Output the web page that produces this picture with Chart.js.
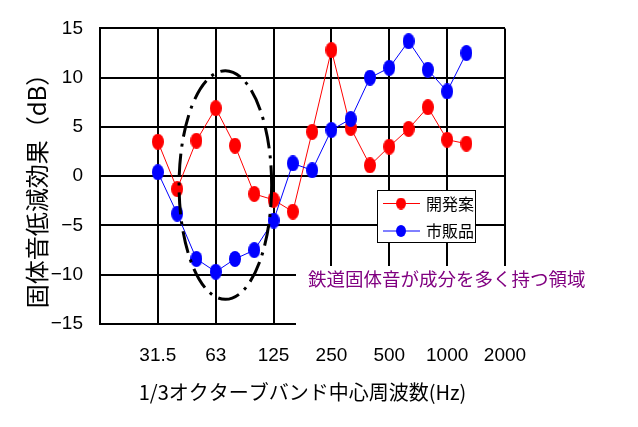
<!DOCTYPE html>
<html>
<head>
<meta charset="utf-8">
<script src="https://cdn.jsdelivr.net/npm/chart.js@4.4.0/dist/chart.umd.min.js"></script>
<style>
  html, body { margin: 0; padding: 0; background: #ffffff; }
  #wrap { width: 638px; height: 427px; }
</style>
</head>
<body>
<div id="wrap"><canvas id="c" width="638" height="427"></canvas></div>
<script>
// ---- data ----
const axisBands = ['16','20','25','31.5','40','50','63','80','100','125','160','200','250','315','400','500','630','800','1000','1250','1600','2000'];
const measuredBands = ['31.5','40','50','63','80','100','125','160','200','250','315','400','500','630','800','1000','1250'];
const kaihatsuan = [3.5, -1.3, 3.6, 6.9, 3.1, -1.8, -2.4, -3.6, 4.5, 12.8, 4.9, 1.1, 3.0, 4.8, 7.0, 3.7, 3.3];
const shihanhin = [0.4, -3.8, -8.4, -9.7, -8.4, -7.5, -4.5, 1.3, 0.6, 4.7, 5.8, 10.0, 11.0, 13.7, 10.8, 8.6, 12.5];
const xTickLabels = ['31.5','63','125','250','500','1000','2000'];
const yTickValues = [-15, -10, -5, 0, 5, 10, 15];
const seriesNames = ['開発案', '市販品'];
const xTitle = '1/3オクターブバンド中心周波数(Hz)';
const yTitle = '固体音低減効果（dB）';
const noteText = '鉄道固体音が成分を多く持つ領域';

// ---- styling helpers ----
const RED = '#ff0000', BLUE = '#0000ff';
const NUM_FONT = "'Liberation Sans Narrow', 'Liberation Sans', Arial, sans-serif";
const JP_FONT = "'Noto Sans CJK JP', 'Noto Sans', sans-serif";

function ellipseImg(color, w, h) {
  const cv = document.createElement('canvas');
  cv.width = w; cv.height = h;
  const g = cv.getContext('2d');
  g.fillStyle = color;
  g.beginPath();
  g.ellipse(w / 2, h / 2, w / 2, h / 2, 0, 0, Math.PI * 2);
  g.fill();
  return cv;
}
const redMark = ellipseImg(RED, 12, 16);
const blueMark = ellipseImg(BLUE, 12, 16);
const redLeg = ellipseImg(RED, 10, 12);
const blueLeg = ellipseImg(BLUE, 10, 12);

const overlay = {
  id: 'overlay',
  afterDatasetsDraw(chart) {
    const ctx = chart.ctx;
    const xs = chart.scales.x, ys = chart.scales.y;
    ctx.save();
    // dash-dot ellipse around the low-frequency region
    const cx = xs.getPixelForValue(6.5), cy = ys.getPixelForValue(-0.9);
    const rx = (xs.getPixelForValue(9) - xs.getPixelForValue(6)) / 3 * 2.4;
    const ry = Math.abs(ys.getPixelForValue(0) - ys.getPixelForValue(11.6));
    ctx.strokeStyle = '#000';
    ctx.lineWidth = 3;
    ctx.setLineDash([22, 7, 3, 7]);
    ctx.beginPath();
    ctx.ellipse(cx, cy, rx, ry, 0, 0, Math.PI * 2);
    ctx.stroke();
    ctx.setLineDash([]);

    // white text box hiding lower-right grid
    ctx.fillStyle = '#ffffff';
    ctx.fillRect(296, 266, 300, 64);
    ctx.fillStyle = '#800080';
    ctx.font = "18.5px " + JP_FONT;
    ctx.textBaseline = 'middle';
    ctx.textAlign = 'left';
    ctx.fillText(noteText, 308, 279);

    // legend box
    const bx = 377.5, by = 190.5, bw = 98, bh = 52;
    ctx.fillStyle = '#ffffff';
    ctx.fillRect(bx, by, bw, bh);
    ctx.strokeStyle = '#000';
    ctx.lineWidth = 1;
    ctx.strokeRect(bx, by, bw, bh);
    const marks = [redLeg, blueLeg];
    chart.data.datasets.forEach((ds, i) => {
      const yy = 203.5 + i * 27.5;
      ctx.strokeStyle = ds.borderColor;
      ctx.lineWidth = 1;
      ctx.beginPath();
      ctx.moveTo(383, yy); ctx.lineTo(420, yy);
      ctx.stroke();
      const m = marks[i];
      ctx.drawImage(m, 401 - m.width / 2, yy - m.height / 2);
      ctx.fillStyle = '#000';
      ctx.font = "16px " + JP_FONT;
      ctx.textBaseline = 'middle';
      ctx.fillText(ds.label, 426, yy);
    });

    // y axis title
    ctx.save();
    ctx.translate(37, 185);
    ctx.rotate(-Math.PI / 2);
    ctx.fillStyle = '#000';
    ctx.font = "24px " + JP_FONT;
    ctx.textAlign = 'center';
    ctx.textBaseline = 'middle';
    ctx.fillText(yTitle, 0, 0);
    ctx.restore();

    ctx.restore();
  }
};

new Chart(document.getElementById('c'), {
  type: 'line',
  data: {
    labels: axisBands,
    datasets: [
      {
        label: seriesNames[0],
        data: measuredBands.map((b, i) => ({ x: b, y: kaihatsuan[i] })),
        borderColor: RED, backgroundColor: RED, borderWidth: 1,
        pointStyle: redMark, pointRadius: 7, tension: 0, order: 1
      },
      {
        label: seriesNames[1],
        data: measuredBands.map((b, i) => ({ x: b, y: shihanhin[i] })),
        borderColor: BLUE, backgroundColor: BLUE, borderWidth: 1,
        pointStyle: blueMark, pointRadius: 7, tension: 0, order: 0
      }
    ]
  },
  options: {
    responsive: false,
    animation: false,
    layout: { padding: { left: 0, right: 133, top: 26, bottom: 0 } },
    plugins: { legend: { display: false }, tooltip: { enabled: false } },
    scales: {
      x: {
        type: 'category',
        offset: false,
        grid: {
          drawTicks: false,
          lineWidth: 2,
          color: (c) => (c.index % 3 === 0 ? '#000' : 'rgba(0,0,0,0)')
        },
        border: { display: true, color: '#000', width: 2 },
        ticks: {
          autoSkip: false, maxRotation: 0, minRotation: 0, padding: 20,
          color: '#000',
          font: { family: NUM_FONT, size: 19 },
          callback: (v, i) => (xTickLabels.includes(axisBands[i]) ? axisBands[i] : '')
        },
        title: {
          display: true, text: xTitle, color: '#000',
          font: { family: JP_FONT, size: 20 },
          padding: { top: 0, bottom: 23 }
        },
        afterFit: (s) => { s.height = 103; }
      },
      y: {
        min: -15, max: 15,
        grid: { drawTicks: false, lineWidth: 2, color: '#000' },
        border: { display: true, color: '#000', width: 2 },
        afterBuildTicks: (s) => { s.ticks = yTickValues.map(v => ({ value: v })); },
        ticks: {
          padding: 17, color: '#000',
          font: { family: NUM_FONT, size: 19 },
          callback: (v) => (v < 0 ? '\u2212' + Math.abs(v) : String(v))
        },
        afterFit: (s) => { s.width = 100; }
      }
    }
  },
  plugins: [overlay]
});
</script>
</body>
</html>
